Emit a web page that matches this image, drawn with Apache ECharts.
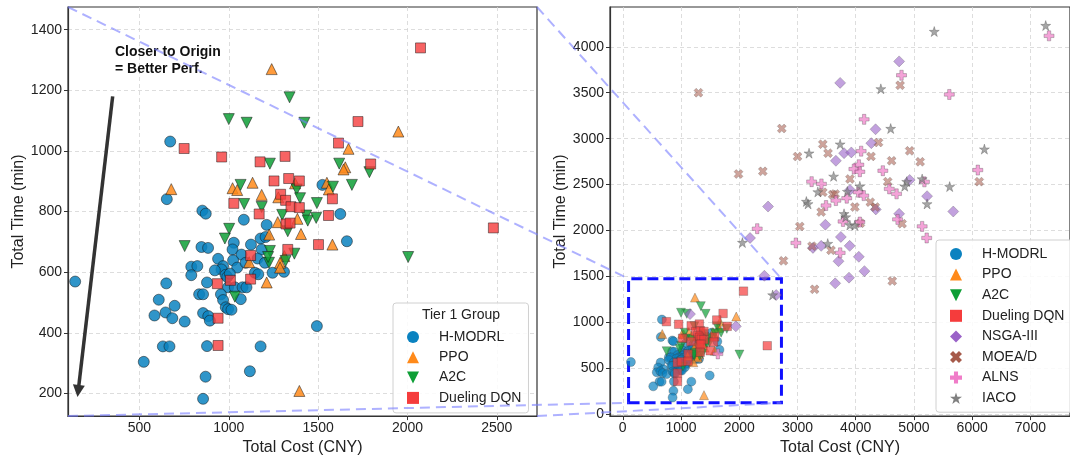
<!DOCTYPE html>
<html><head><meta charset="utf-8">
<script src="https://cdn.jsdelivr.net/npm/echarts@6/dist/echarts.min.js"></script>
<style>html,body{margin:0;padding:0;background:#fff}#c{width:1070px;height:461px}</style>
</head><body><div id="c"></div>
<script>
// ---------- data ----------
const hmodrl = [[140,569],[672,1031],[653,841],[852,803],[871,793],[1084,773],[1212,756],[847,683],[884,680],[1028,697],[1021,675],[1124,691],[1178,711],[1184,675],[1071,658],[940,644],[1024,639],[1161,645],[968,620],[959,609],[1047,615],[1094,631],[790,618],[824,620],[922,606],[790,590],[982,591],[991,584],[1006,595],[1146,598],[1165,593],[878,566],[650,563],[996,550],[1034,550],[1077,550],[1099,550],[1067,511],[956,527],[968,508],[834,527],[856,527],[608,509],[697,489],[983,484],[996,478],[1015,476],[584,457],[646,467],[684,448],[753,437],[856,465],[885,455],[894,440],[631,355],[668,355],[878,356],[1178,355],[524,304],[870,255],[1118,273],[856,182],[1493,422],[1661,702],[1624,792],[1524,888],[1245,598],[1309,601],[1202,631],[1206,716]];
const ppo = [[1240,1270],[678,874],[1021,877],[1047,871],[1133,895],[1371,893],[1184,855],[1274,765],[1949,1064],[1670,1007],[1652,946],[1642,939],[1549,895],[1560,873],[1277,847],[1384,776],[1404,726],[1580,691],[1226,724],[1311,653],[1287,631],[1287,615],[1212,566],[1114,633],[1395,208]];
const a2c = [[1340,1177],[1000,1105],[1100,1093],[1423,1093],[1230,958],[1618,958],[1787,930],[1066,888],[1086,825],[1184,815],[1299,789],[1002,743],[978,711],[753,686],[1380,873],[1583,882],[1689,888],[1399,844],[1493,828],[1433,787],[1442,770],[1489,779],[1330,735],[1367,661],[1230,670],[1318,637],[1225,631],[1034,519],[2004,650],[1220,650]];
const dqn = [[2073,1340],[1723,1097],[750,1008],[960,980],[1315,982],[1614,1026],[1794,957],[1175,964],[1253,901],[1335,909],[1395,901],[1290,857],[1318,837],[1580,842],[1348,816],[1395,813],[1028,827],[1170,792],[1558,787],[1320,759],[1343,762],[1502,691],[1330,675],[1122,655],[936,562],[1009,573],[1122,577],[940,448],[940,358],[2481,746]];
const nsga3 = [[2495,2261],[4746,3841],[3733,3607],[4341,3102],[4268,2951],[3800,2842],[3925,2850],[3660,2759],[4927,2550],[3902,2442],[5226,2374],[5675,2207],[4345,2230],[4746,2182],[3479,2063],[2186,1919],[3266,1811],[3407,1833],[3745,1930],[3897,1833],[4054,1714],[3705,1666],[4150,1558],[3885,1487],[3648,1425],[2432,1508],[2635,1298],[1155,1090],[1942,957]];
const moead = [[1300,3500],[2731,3110],[1988,2615],[2405,2644],[3001,2805],[3040,2045],[4763,3581],[4392,2958],[3435,2940],[3525,2842],[4927,2867],[5107,2748],[4263,2807],[4617,2759],[6121,2532],[3902,2561],[4550,2532],[3435,2417],[3604,2391],[3648,2398],[3407,2201],[4251,2309],[4336,2255],[3986,2255],[4797,2074],[3250,1830],[3576,1785],[4080,2080],[3294,1360],[4628,1450],[2760,1670]];
const alns = [[7320,4119],[4787,3690],[5608,3481],[4145,3210],[4094,2864],[4054,2716],[3969,2669],[4071,2640],[4466,2651],[6097,2658],[3243,2532],[3412,2507],[5180,2530],[4577,2453],[4702,2399],[4043,2417],[4138,2380],[3846,2352],[3660,2326],[3491,2272],[4719,2121],[3783,2099],[4071,2092],[5141,2045],[2309,2020],[2973,1865],[3733,1757],[5219,1919],[1633,657]];
const iaco = [[7263,4231],[5349,4166],[4432,3542],[4601,3110],[3733,2940],[3199,2842],[6210,2886],[3621,2590],[5141,2561],[4876,2532],[4842,2482],[5614,2478],[4071,2482],[3350,2420],[3857,2424],[3153,2316],[3182,2290],[5226,2290],[3800,2182],[3829,2147],[3900,2060],[2055,1869],[3520,1858],[3986,2056],[2574,1298]];

const xTicksL = [500,1000,1500,2000,2500];
const yTicksL = [200,400,600,800,1000,1200,1400];
const xTicksR = [0,1000,2000,3000,4000,5000,6000,7000];
const yTicksR = [0,500,1000,1500,2000,2500,3000,3500,4000];
const zoomBox = {x0:100, x1:2725, y0:125, y1:1475};
const rightRange = {x0:-219, x1:7680, y0:-20, y1:4433};
const arrowFrom = [350,1180], arrowTo = [157,208];

// ---------- chart ----------
const FONT = 'Liberation Sans, Arial, sans-serif';
const chart = echarts.init(document.getElementById('c'), null, {renderer:'canvas'});
const PLUS = 'path://M3.3,0 H6.7 V3.3 H10 V6.7 H6.7 V10 H3.3 V6.7 H0 V3.3 H3.3 Z';
const XMARK = 'path://M2.355,-4.717 L4.717,-2.355 L2.355,0 L4.717,2.355 L2.355,4.717 L0,2.355 L-2.355,4.717 L-4.717,2.355 L-2.355,0 L-4.717,-2.355 L-2.355,-4.717 L0,-2.355 Z';
const DOWN = 'path://M0,0 L2,0 L1,2 Z';
const STAR = 'path://M50,0 L61.2,34.5 L97.6,34.5 L68.2,55.9 L79.4,90.5 L50,69.1 L20.6,90.5 L31.8,55.9 L2.4,34.5 L38.8,34.5 Z';
const edge = {borderColor:'rgba(20,20,20,0.75)', borderWidth:0.8};
const edgeR = {borderColor:'rgba(60,60,60,0.6)', borderWidth:0.7};

function axis(gi, min, max, ticks, name, isX){
  return {
    type:'value', gridIndex:gi, min:min, max:max, name:name,
    nameLocation:'middle', nameGap: isX ? 22 : 40,
    nameTextStyle:{fontFamily:FONT, fontSize:16, color:'#222'},
    axisLine:{show:true, onZero:false, lineStyle:{color:'#333', width:1.2}},
    axisTick:{show:true, length:4, lineStyle:{color:'#333'}, customValues:ticks},
    axisLabel:{fontFamily:FONT, fontSize:14, color:'#222', margin: isX ? 5 : 6, customValues:ticks,
      formatter: v => String(v)},
    splitLine:{show:true, lineStyle:{color:'#d4d4d4', type:[4,3], width:0.8}}
  };
}
function sc(name, data, gi, symbol, size, color, op, extra, st){
  return Object.assign({
    type:'scatter', name:name, xAxisIndex:gi, yAxisIndex:gi, data:data,
    symbol:symbol, symbolSize:size,
    itemStyle:Object.assign({color:color, opacity:op}, st),
    emphasis:{disabled:true}, silent:true, animation:false
  }, extra||{});
}
const C = {h:'#0a82c0', p:'#ff8a1a', a:'#0e9f36', d:'#f53c3c', n:'#9a62c8', m:'#a65a4a', l:'#f07cc8', i:'#808080'};

const series = [
  sc('H-MODRL', hmodrl, 0, 'circle', 11, C.h, 0.85, null, edge),
  sc('PPO', ppo, 0, 'triangle', 11, C.p, 0.85, null, edge),
  sc('A2C', a2c, 0, DOWN, 11, C.a, 0.85, null, edge),
  sc('Dueling DQN', dqn, 0, 'rect', 10, C.d, 0.8, {
    markLine:{silent:true, symbol:['none','triangle'], symbolSize:[12,12], animation:false,
      label:{show:false}, lineStyle:{color:'#333', width:3.5, type:'solid'},
      data:[[{coord:arrowFrom},{coord:arrowTo}]]}
  }, edge),
  sc('H-MODRL', hmodrl, 1, 'circle', 9, C.h, 0.7, null, edgeR),
  sc('PPO', ppo, 1, 'triangle', 9, C.p, 0.7, null, edgeR),
  sc('A2C', a2c, 1, DOWN, 9, C.a, 0.7, null, edgeR),
  sc('Dueling DQN', dqn, 1, 'rect', 8.5, C.d, 0.7, {
    markArea:{silent:true, animation:false,
      itemStyle:{color:'rgba(0,0,0,0)', borderColor:'#1010ff', borderWidth:3, borderType:[11,5]},
      data:[[{coord:[zoomBox.x0, zoomBox.y0]},{coord:[zoomBox.x1, zoomBox.y1]}]]}
  }, edgeR),
  sc('NSGA-III', nsga3, 1, 'diamond', 11, C.n, 0.6, null, edgeR),
  sc('MOEA/D', moead, 1, XMARK, 9, C.m, 0.55, null, edgeR),
  sc('ALNS', alns, 1, PLUS, 10, C.l, 0.7, null, edgeR),
  sc('IACO', iaco, 1, STAR, 10, C.i, 0.7, null, edgeR)
];

const legendBase = {
  orient:'vertical', itemWidth:12, itemHeight:12, backgroundColor:'rgba(255,255,255,0.85)',
  borderColor:'#d0d0d0', borderWidth:1, borderRadius:3, selectedMode:false,
  itemStyle:{borderWidth:0, opacity:1},
  textStyle:{fontFamily:FONT, fontSize:14, color:'#222', padding:[0,0,0,15], lineHeight:12}
};

chart.setOption({
  animation:false,
  textStyle:{fontFamily:FONT},
  grid:[
    {left:68, top:7, width:469, height:412, show:true, borderColor:'#333', borderWidth:1.2, containLabel:false},
    {left:610, top:7, width:468, height:412, show:true, borderColor:'#333', borderWidth:1.2, containLabel:false}
  ],
  xAxis:[
    axis(0, zoomBox.x0, zoomBox.x1, xTicksL, 'Total Cost (CNY)', true),
    axis(1, rightRange.x0, rightRange.x1, xTicksR, 'Total Cost (CNY)', true)
  ],
  yAxis:[
    axis(0, zoomBox.y0, zoomBox.y1, yTicksL, 'Total Time (min)', false),
    axis(1, rightRange.y0, rightRange.y1, yTicksR, 'Total Time (min)', false)
  ],
  legend:[
    Object.assign({}, legendBase, {left:393, top:303, itemGap:6.3, padding:[27,7,8,14],
      data:['H-MODRL','PPO','A2C','Dueling DQN'], z:20}),
    Object.assign({}, legendBase, {left:936, top:240, itemGap:6.6, padding:[7,20,7,14],
      data:['H-MODRL','PPO','A2C','Dueling DQN','NSGA-III','MOEA/D','ALNS','IACO'], z:20})
  ],
  series:series
});

// ---------- annotations (positions from the axes' own scales) ----------
const px = (g, v) => chart.convertToPixel({xAxisIndex:g, yAxisIndex:g}, v);
const L = {tl:px(0,[zoomBox.x0,zoomBox.y1]), tr:px(0,[zoomBox.x1,zoomBox.y1]), bl:px(0,[zoomBox.x0,zoomBox.y0]), br:px(0,[zoomBox.x1,zoomBox.y0])};
const R = {tl:px(1,[zoomBox.x0,zoomBox.y1]), tr:px(1,[zoomBox.x1,zoomBox.y1]), bl:px(1,[zoomBox.x0,zoomBox.y0]), br:px(1,[zoomBox.x1,zoomBox.y0])};
const conn = (a,b) => ({type:'line', z:50, silent:true,
  shape:{x1:a[0], y1:a[1], x2:b[0], y2:b[1]},
  style:{stroke:'rgba(120,125,255,0.6)', lineWidth:2, lineDash:[10,6]}});
chart.setOption({
  graphic:[
    conn(L.tl,R.tl), conn(L.tr,R.tr), conn(L.bl,R.bl), conn(L.br,R.br),
    {type:'text', left:115, top:44, z:30, silent:true,
      style:{text:'Closer to Origin\n= Better Perf.', font:'bold 14px ' + FONT, fill:'#111', lineHeight:17}},
    {type:'text', z:40, silent:true, x:461, y:315,
      style:{text:'Tier 1 Group', font:'14px ' + FONT, fill:'#222', align:'center', verticalAlign:'middle'}}
  ]
});
</script></body></html>
